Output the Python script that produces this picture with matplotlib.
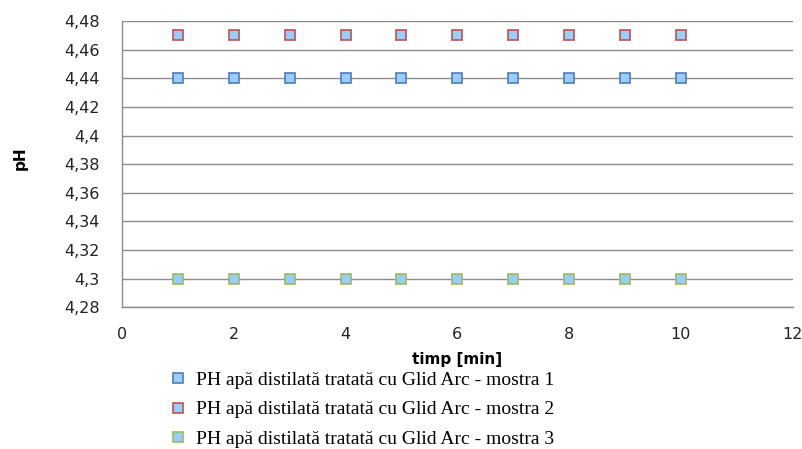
import matplotlib
matplotlib.use("Agg")
import matplotlib.pyplot as plt
from matplotlib.ticker import FuncFormatter, MultipleLocator

time_min = [1, 2, 3, 4, 5, 6, 7, 8, 9, 10]
ph_sample1 = [4.44] * 10
ph_sample2 = [4.47] * 10
ph_sample3 = [4.30] * 10
labels = ["PH apă distilată tratată cu Glid Arc - mostra 1",
          "PH apă distilată tratată cu Glid Arc - mostra 2",
          "PH apă distilată tratată cu Glid Arc - mostra 3"]
edge_colors = ["#4a7ebb", "#c0504d", "#9bbb59"]
fill_color = "#99ccff"

fig = plt.figure(figsize=(8.03, 4.49), dpi=100)
ax = fig.add_axes([0.152, 0.316, 0.835, 0.637])

for y, lab, ec in zip([ph_sample1, ph_sample2, ph_sample3], labels, edge_colors):
    ax.plot(time_min, y, linestyle="none", marker="s", markersize=7,
            markerfacecolor=fill_color, markeredgecolor=ec, markeredgewidth=1.2,
            label=lab, zorder=3)

ax.set_xlim(0, 12)
ax.set_ylim(4.28, 4.48)
ax.xaxis.set_major_locator(MultipleLocator(2))
ax.yaxis.set_major_locator(MultipleLocator(0.02))
fmt = FuncFormatter(lambda v, p: ("%g" % round(v, 4)).replace(".", ","))
ax.yaxis.set_major_formatter(fmt)
ax.xaxis.set_major_formatter(FuncFormatter(lambda v, p: "%d" % v))
ax.grid(axis="y", color="#8c8c8c", linewidth=1)
ax.set_axisbelow(True)
for s in ["top", "right"]:
    ax.spines[s].set_visible(False)
for s in ["left", "bottom"]:
    ax.spines[s].set_color("#8c8c8c")
    ax.spines[s].set_linewidth(1)
ax.tick_params(length=0, labelsize=11.5, pad=16)
ax.tick_params(axis="x", pad=14)
for t in ax.get_xticklabels() + ax.get_yticklabels():
    t.set_color("#222222")

ax.set_xlabel("timp [min]", fontsize=11, fontweight="bold")
ax.xaxis.set_label_coords(0.5, -0.158)
ax.set_ylabel("pH", fontsize=11, fontweight="bold")
ax.yaxis.set_label_coords(-0.141, 0.52)

leg = fig.legend(loc="upper left", bbox_to_anchor=(0.204, 0.19), frameon=False,
                 prop={"family": "Liberation Serif", "size": 14},
                 handlelength=0.7, handletextpad=0.55, labelspacing=0.6,
                 borderaxespad=0)
fig.savefig("out.png", dpi=100)
